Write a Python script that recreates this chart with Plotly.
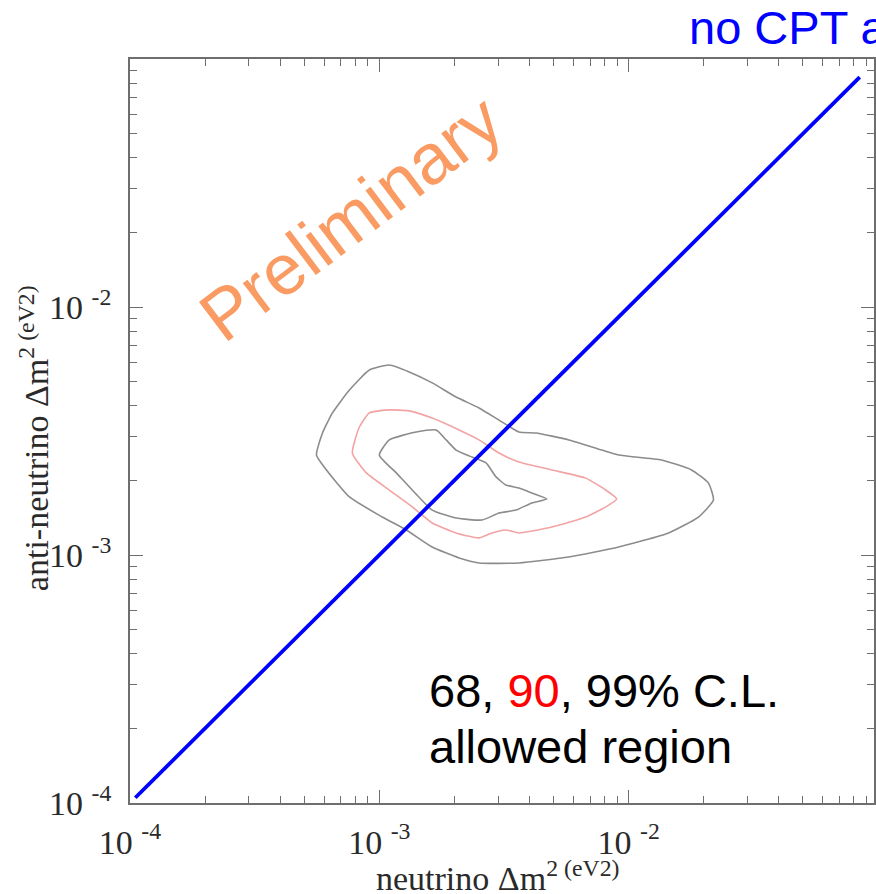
import numpy as np
import plotly.graph_objects as go

# Confidence-level contours in the (neutrino, anti-neutrino) mass-splitting plane.
# Values are log10 of Δm² in eV².
c99_log_nu = [-2.96, -3.04, -3.12, -3.188, -3.228, -3.252, -3.212, -3.12, -2.988, -2.892,
              -2.788, -2.68, -2.60, -2.44, -2.24, -2.04, -1.84, -1.72, -1.66, -1.68,
              -1.748, -1.868, -2.04, -2.108, -2.24, -2.372, -2.44, -2.52, -2.60, -2.692,
              -2.788, -2.88, -2.96]
c99_log_anu = [-2.234, -2.254, -2.335, -2.427, -2.508, -2.597, -2.657, -2.766, -2.847, -2.899,
               -2.968, -3.012, -3.032, -3.032, -3.008, -2.968, -2.911, -2.847, -2.778, -2.710,
               -2.657, -2.617, -2.597, -2.577, -2.536, -2.508, -2.504, -2.456, -2.407, -2.363,
               -2.306, -2.262, -2.234]

c90_log_nu = [-2.96, -3.04, -3.08, -3.108, -3.052, -2.96, -2.868, -2.788, -2.692, -2.60,
              -2.548, -2.492, -2.44, -2.308, -2.172, -2.092, -2.048, -2.092, -2.172, -2.308,
              -2.44, -2.52, -2.60, -2.68, -2.788, -2.88, -2.96]
c90_log_anu = [-2.415, -2.427, -2.484, -2.589, -2.669, -2.738, -2.806, -2.871, -2.911, -2.931,
               -2.911, -2.899, -2.911, -2.887, -2.847, -2.806, -2.774, -2.738, -2.690, -2.657,
               -2.625, -2.589, -2.536, -2.496, -2.448, -2.419, -2.415]

c68_log_nu = [-2.772, -2.852, -2.96, -3.00, -2.932, -2.868, -2.788, -2.692, -2.588, -2.52,
              -2.452, -2.388, -2.328, -2.388, -2.44, -2.492, -2.532, -2.572, -2.628, -2.692,
              -2.732, -2.772]
c68_log_anu = [-2.496, -2.504, -2.536, -2.597, -2.669, -2.738, -2.819, -2.851, -2.859, -2.831,
               -2.819, -2.790, -2.774, -2.750, -2.730, -2.718, -2.685, -2.629, -2.605, -2.577,
               -2.536, -2.496]

# Equal-mass (CPT conserving) diagonal
cpt_dm2 = [1.05e-4, 8.45e-2]

# Axis ticks: labelled decades plus unlabelled 2..9 sub-ticks
decades = [1e-4, 1e-3, 1e-2, 1e-1]
decade_text = ["10 <sup>-4</sup>", "10 <sup>-3</sup>", "10 <sup>-2</sup>", ""]
sub_factors = [2, 3, 4, 5, 6, 7, 8, 9]

tick_vals, tick_text = [], []
for d, lab in zip(decades, decade_text):
    tick_vals.append(d)
    tick_text.append(lab)
    if d < 1e-1:
        for k in sub_factors:
            tick_vals.append(k * d)
            tick_text.append("")

SERIF = "Liberation Serif"
SANS = "Liberation Sans"
AXIS_GRAY = "#6e6e6e"
TEXT_DARK = "#2a2a2a"
X_RANGE = [-4, -1.016]
Y_RANGE = [-4, -1]

fig = go.Figure()

for lx, ly, col in [(c99_log_nu, c99_log_anu, "#8c8c8c"),
                    (c90_log_nu, c90_log_anu, "#f2a3a3"),
                    (c68_log_nu, c68_log_anu, "#8c8c8c")]:
    fig.add_trace(go.Scatter(x=np.power(10.0, lx), y=np.power(10.0, ly), mode="lines",
                             line=dict(color=col, width=1.6, shape="spline", smoothing=0.5),
                             hoverinfo="skip", showlegend=False))

fig.add_trace(go.Scatter(x=cpt_dm2, y=cpt_dm2, mode="lines",
                         line=dict(color="#0000ff", width=3.8), showlegend=False))

# empty trace that anchors the overlaid axes carrying the long decade ticks
fig.add_trace(go.Scatter(x=[], y=[], xaxis="x2", yaxis="y2", showlegend=False,
                         hoverinfo="skip"))

base_axis = dict(
    type="log", showgrid=False, zeroline=False,
    showline=True, linecolor=AXIS_GRAY, linewidth=1.5,
    ticks="inside", tickcolor=AXIS_GRAY,
)

# primary axes: short sub-ticks everywhere, labels at decades
fig.update_layout(
    xaxis=dict(**base_axis, range=X_RANGE, mirror="ticks", ticklen=7, tickwidth=1.1,
               tickmode="array", tickvals=tick_vals, ticktext=tick_text,
               ticklabelstandoff=8,
               tickfont=dict(family=SERIF, size=34, color=TEXT_DARK)),
    yaxis=dict(**base_axis, range=Y_RANGE, mirror="ticks", ticklen=7, tickwidth=1.1,
               tickmode="array", tickvals=tick_vals, ticktext=tick_text,
               ticklabelstandoff=10,
               tickfont=dict(family=SERIF, size=34, color=TEXT_DARK)),
    # overlaid axes: longer ticks at the decades only
    xaxis2=dict(**base_axis, range=X_RANGE, overlaying="x", anchor="y2", side="bottom",
                mirror="ticks", ticklen=13, tickwidth=1.3,
                tickmode="array", tickvals=decades, showticklabels=False),
    yaxis2=dict(**base_axis, range=Y_RANGE, overlaying="y", anchor="x2", side="left",
                mirror="ticks", ticklen=13, tickwidth=1.3,
                tickmode="array", tickvals=decades, showticklabels=False),
)

annotations = [
    dict(text="Preliminary", x=0.2976, y=0.787, xref="paper", yref="paper",
         textangle=-37, showarrow=False, xanchor="center", yanchor="middle",
         font=dict(family=SANS, size=71, color="#f99b62")),
    dict(text="no CPT assumption", x=0.748, y=1.043, xref="paper", yref="paper",
         showarrow=False, xanchor="left", yanchor="middle",
         font=dict(family=SANS, size=47, color="#0000ff")),
    dict(text="68, <span style='color:#ff0000'>90</span>, 99% C.L.", x=0.3995, y=0.151,
         xref="paper", yref="paper", showarrow=False, xanchor="left", yanchor="middle",
         font=dict(family=SANS, size=47, color="#000000")),
    dict(text="allowed region", x=0.3995, y=0.0757,
         xref="paper", yref="paper", showarrow=False, xanchor="left", yanchor="middle",
         font=dict(family=SANS, size=47, color="#000000")),
    dict(text="neutrino Δm<sup>2 (eV2)</sup>", x=0.3284, y=-0.1290,
         xref="paper", yref="paper", showarrow=False, xanchor="left", yanchor="bottom",
         font=dict(family=SERIF, size=34, color=TEXT_DARK)),
    dict(text="anti-neutrino Δm<sup>2 (eV2)</sup>", x=-0.0979, y=0.2823, textangle=-90,
         xref="paper", yref="paper", showarrow=False, xanchor="right", yanchor="bottom",
         font=dict(family=SERIF, size=34, color=TEXT_DARK)),
]

fig.update_layout(
    width=876, height=894,
    margin=dict(l=130, r=0, t=59, b=91),
    paper_bgcolor="white", plot_bgcolor="white",
    showlegend=False,
    annotations=annotations,
)

fig.write_html("out.html")
